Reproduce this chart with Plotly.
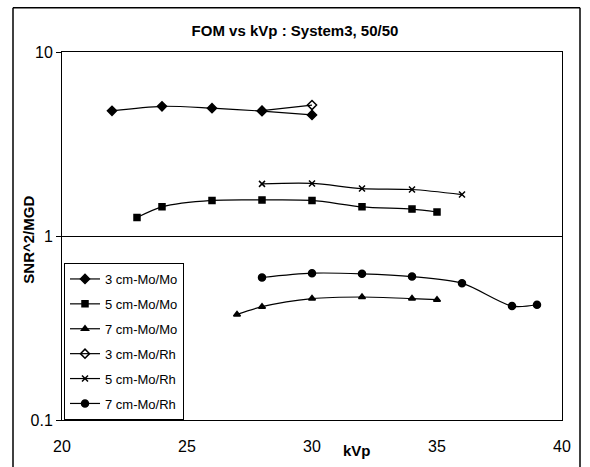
import plotly.graph_objects as go

# kVp values and SNR^2/MGD
kvp_3mo = [22, 24, 26, 28, 30]
fom_3mo = [4.79, 5.07, 4.95, 4.77, 4.55]

kvp_5mo = [23, 24, 26, 28, 30, 32, 34, 35]
fom_5mo = [1.26, 1.44, 1.56, 1.57, 1.56, 1.44, 1.40, 1.35]

kvp_7mo = [27, 28, 30, 32, 34, 35]
fom_7mo = [0.375, 0.413, 0.457, 0.466, 0.457, 0.451]

kvp_3rh = [28, 30]
fom_3rh = [4.8, 5.15]

kvp_5rh = [28, 30, 32, 34, 36]
fom_5rh = [1.92, 1.93, 1.81, 1.79, 1.68]

kvp_7rh = [28, 30, 32, 34, 36, 38, 39]
fom_7rh = [0.595, 0.628, 0.623, 0.602, 0.554, 0.416, 0.423]

series = [
    ("3 cm-Mo/Mo", kvp_3mo, fom_3mo, "diamond", 7),
    ("5 cm-Mo/Mo", kvp_5mo, fom_5mo, "square", 6),
    ("7 cm-Mo/Mo", kvp_7mo, fom_7mo, "triangle-up", 6),
    ("3 cm-Mo/Rh", kvp_3rh, fom_3rh, "diamond-open", 7),
    ("5 cm-Mo/Rh", kvp_5rh, fom_5rh, "x-thin-open", 6),
    ("7 cm-Mo/Rh", kvp_7rh, fom_7rh, "circle", 7),
]

fig = go.Figure()

for i, (name, xs, ys, sym, size) in enumerate(series):
    fig.add_trace(go.Scatter(
        x=xs,
        y=ys,
        mode='lines+markers',
        name=name,
        legendgroup=str(i),
        line=dict(color='black', width=1.2, shape='spline', smoothing=0.8),
        marker=dict(symbol=sym, size=size, color='black',
                    line=dict(color='black', width=1.5)),
    ))

fig.update_layout(
    width=590,
    height=467,
    margin=dict(l=62, r=28, t=52, b=42),
    paper_bgcolor='white',
    plot_bgcolor='white',
    font=dict(family="Liberation Sans, Arial, sans-serif", size=15, color='black'),
    title=dict(text="<b>FOM vs kVp : System3, 50/50</b>", x=0.5, xanchor='center',
               y=0.935, yanchor='middle', font=dict(size=15)),
    showlegend=True,
    legend=dict(
        x=0.004, y=0.0, xanchor='left', yanchor='bottom',
        bgcolor='white', bordercolor='black', borderwidth=1,
        font=dict(size=13), tracegroupgap=5,
        itemwidth=30,
    ),
)

fig.update_xaxes(
    range=[20, 40],
    tickvals=[20, 25, 30, 35, 40],
    showgrid=False,
    zeroline=False,
    showline=True, linecolor='black', linewidth=1, mirror=True,
    ticks='', ticklabelstandoff=12,
    tickfont=dict(size=16),
)

fig.update_yaxes(
    type='log',
    range=[-1, 1],
    tickvals=[0.1, 1, 10],
    ticktext=["0.1", "1", "10"],
    showgrid=True, gridcolor='black', gridwidth=1,
    zeroline=False,
    showline=True, linecolor='black', linewidth=1, mirror=True,
    ticks='outside', ticklen=5, tickcolor='black',
    tickfont=dict(size=16),
)

# axis titles placed as in the original
fig.add_annotation(
    x=31.8, y=-0.055, xref='x', yref='paper',
    text="<b>kVp</b>", showarrow=False, font=dict(size=15),
    yanchor='top',
)
fig.add_annotation(
    x=-0.066, y=0.49, xref='paper', yref='paper',
    xanchor='center', yanchor='middle',
    text="<b>SNR^2/MGD</b>", showarrow=False, font=dict(size=15),
    textangle=-90,
)

# outer frame around the whole chart
frame = dict(color='black', width=1.5)
fig.add_shape(type='line', xref='paper', yref='paper',
              x0=-0.098, x1=-0.098, y0=-0.2, y1=1.12, line=frame)
fig.add_shape(type='line', xref='paper', yref='paper',
              x0=1.036, x1=1.036, y0=-0.2, y1=1.12, line=frame)
fig.add_shape(type='line', xref='paper', yref='paper',
              x0=-0.098, x1=1.036, y0=1.12, y1=1.12, line=frame)

fig.write_html("out.html", post_script="document.body.style.margin='0';",
               config={'displayModeBar': False})
